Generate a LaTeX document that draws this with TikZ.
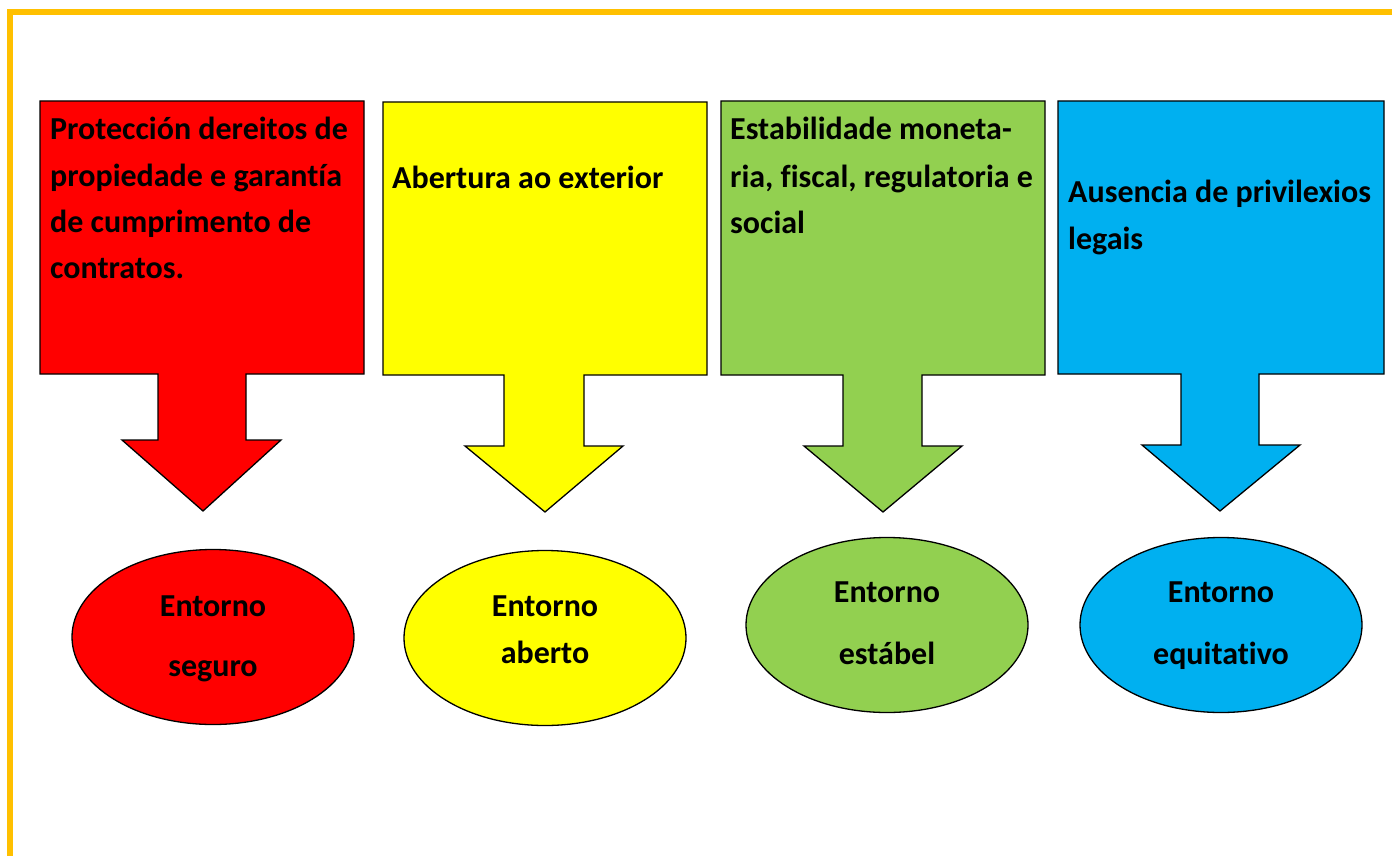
\documentclass[tikz,border=0pt]{standalone}
\usepackage{fontspec}
\setmainfont{Carlito}[Ligatures=NoCommon]
\usetikzlibrary{shapes.geometric}
\definecolor{gold}{HTML}{FFC000}
\definecolor{cRed}{HTML}{FF0000}
\definecolor{cYel}{HTML}{FFFF00}
\definecolor{cGrn}{HTML}{92D050}
\definecolor{cBlu}{HTML}{00B0F0}
\begin{document}
\begin{tikzpicture}[x=1pt,y=-1pt,
  txt/.style={font=\bfseries\fontsize{32}{46}\selectfont,anchor=base west,inner sep=0pt},
  ctxt/.style={font=\bfseries\fontsize{32}{46}\selectfont,anchor=base,inner sep=0pt},
  ell/.style={ellipse,draw=black,line width=1.3pt,minimum width=282pt,minimum height=175pt,inner sep=0pt}]
\useasboundingbox (0,0) rectangle (1392,856);
\fill[white] (0,0) rectangle (1392,856);
% gold frame
\draw[gold,line width=5.5pt] (10,858) -- (10,12) -- (1394,12);
% callouts
\foreach \col/\xa/\ya/\xb/\yb/\sl/\sr/\hy/\hl/\hr/\tx/\ty in {
  cRed/40/101/364/374/158/246/440/122/281/203/511,
  cYel/383/102/707/375/504/584/446/465/623/545/512,
  cGrn/721/101/1045/375/843/922/446/804/962/883/512,
  cBlu/1058/101/1384/374/1181/1259/445/1142/1300/1220/511}{
  \filldraw[fill=\col,draw=black,line width=1.3pt,line join=miter]
    (\xa,\ya) -- (\xb,\ya) -- (\xb,\yb) -- (\sr,\yb) -- (\sr,\hy) -- (\hr,\hy)
    -- (\tx,\ty) -- (\hl,\hy) -- (\sl,\hy) -- (\sl,\yb) -- (\xa,\yb) -- cycle;
}
% box texts
\node[txt] (r1) at (50,140) {Protección dereitos de};
\node[txt] (r2) at (50,186) {propiedade e garantía};
\node[txt] (r3) at (50,232) {de cumprimento de};
\node[txt] (r4) at (50,278) {contratos.};
\node[txt] (y1) at (392,188) {Abertura ao exterior};
\node[txt] (g1) at (730,140) {Estabilidade moneta-};
\node[txt] (g2) at (730,187) {ria, fiscal, regulatoria e};
\node[txt] (g3) at (730,233) {social};
\node[txt] (b1) at (1068,202) {Ausencia de privilexios};
\node[txt] (b2) at (1068,249) {legais};
% ellipses
\node[ell,fill=cRed] (e1) at (213,637) {};
\node[ell,fill=cYel] (e2) at (545,638) {};
\node[ell,fill=cGrn] (e3) at (887,625) {};
\node[ell,fill=cBlu] (e4) at (1221,625) {};
\node[ctxt] (e1a) at (213,616) {Entorno};
\node[ctxt] (e1b) at (213,676) {seguro};
\node[ctxt] (e2a) at (545,616) {Entorno};
\node[ctxt] (e2b) at (545,663) {aberto};
\node[ctxt] (e3a) at (887,602) {Entorno};
\node[ctxt] (e3b) at (887,664) {estábel};
\node[ctxt] (e4a) at (1221,602) {Entorno};
\node[ctxt] (e4b) at (1221,664) {equitativo};
\end{tikzpicture}
\end{document}
